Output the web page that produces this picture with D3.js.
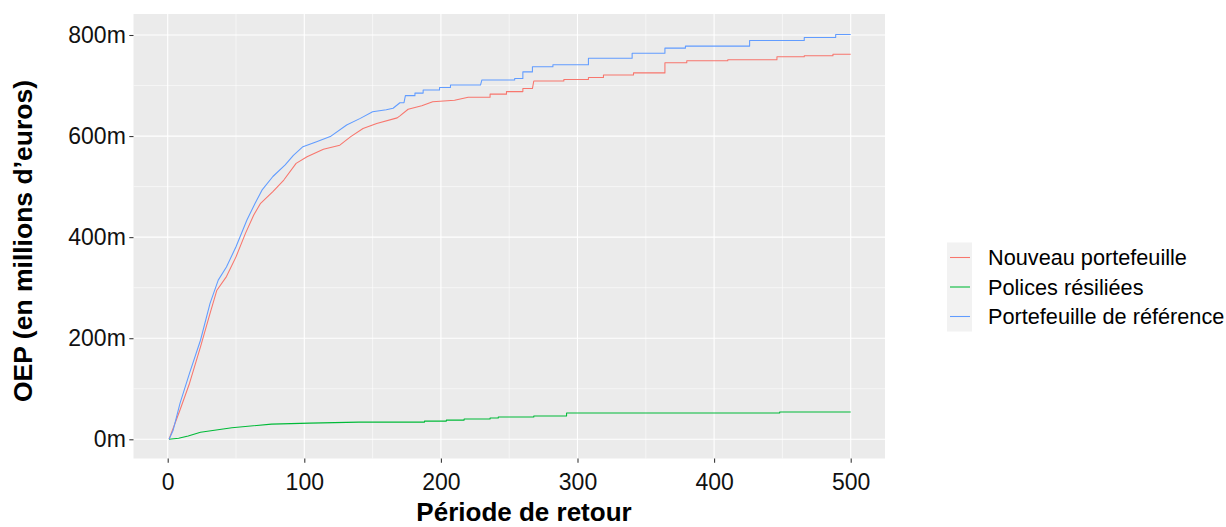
<!DOCTYPE html>
<html>
<head>
<meta charset="utf-8">
<script src="https://cdn.jsdelivr.net/npm/d3@7"></script>
<style>
  html, body { margin: 0; padding: 0; background: #fff; }
  svg { display: block; font-family: "Liberation Sans", Arial, sans-serif; }
</style>
</head>
<body>
<svg id="chart" width="1226" height="527"></svg>
<script>
// ---- data ----
const seriesNames = ["Nouveau portefeuille", "Polices résiliées", "Portefeuille de référence"];
const seriesColors = ["#F8766D", "#00BA38", "#619CFF"];

const newPeriods = [1,9,16,24,31,36,43,50,57,63,68,77,85,94,102,114,126,134,143,153,168,170,176,186,194,210,220,
  236,236,248,248,260,260,267,268,290,290,308,308,319,319,341,341,364,364,380,380,410,410,446,446,466,466,487,487,500];
const newValues = [0,58,111,183,249,295,322,361,408,444,467,490,513,546,559,574,582,599,615,625,636,640,653,660,668,671,677,
  677,683,683,688,688,694,694,709,709,712,712,716,716,721,721,725,725,745,745,749,749,751,751,757,757,759,759,762,762];

const cancPeriods = [1,8,15,24,47,76,104,140,188,188,204,204,217,217,236,236,242,242,268,268,292,292,448,448,500];
const cancValues = [0,2,6.5,14,23,30,32,34,34,36,36,38,38,40,40,42,42,44,44,46,46,52,52,54,54];

const refPeriods = [1,4,9,16,24,31,37,43,50,58,64,69,77,86,92,99,109,119,131,141,150,160,165,170,173,
  174,181,181,187,187,199,199,207,207,229,230,254,254,260,260,267,267,282,282,308,308,340,340,364,364,379,379,426,426,466,466,489,489,500];
const refValues = [0,18,71,131,196,269,315,341,381,434,467,493,520,543,562,579,589,599,622,635,648,652,655,666,666,
  680,680,685,685,691,691,696,696,701,701,711,711,714,714,727,727,737,737,741,741,754,754,764,764,774,774,778,778,789,789,795,795,801,801];

const xTicks = [0,100,200,300,400,500];
const xMinor = [50,150,250,350,450];
const yTicks = [0,200,400,600,800];
const yMinor = [100,300,500,700];
const yTickLabels = ["0m","200m","400m","600m","800m"];

// ---- layout ----
const svg = d3.select("#chart");
const panel = { left: 133.5, right: 885, top: 14, bottom: 458.5 };
const x = d3.scaleLinear().domain([0, 500]).range([167.7, 850.7]);
const y = d3.scaleLinear().domain([0, 800]).range([439.3, 35]);

svg.append("rect")
  .attr("x", panel.left).attr("y", panel.top)
  .attr("width", panel.right - panel.left).attr("height", panel.bottom - panel.top)
  .attr("fill", "#EBEBEB");

const grid = svg.append("g");
grid.selectAll(".xmin").data(xMinor).join("line")
  .attr("x1", d => x(d)).attr("x2", d => x(d))
  .attr("y1", panel.top).attr("y2", panel.bottom)
  .attr("stroke", "#fff").attr("stroke-width", 0.55);
grid.selectAll(".ymin").data(yMinor).join("line")
  .attr("y1", d => y(d)).attr("y2", d => y(d))
  .attr("x1", panel.left).attr("x2", panel.right)
  .attr("stroke", "#fff").attr("stroke-width", 0.55);
grid.selectAll(".xmaj").data(xTicks).join("line")
  .attr("x1", d => x(d)).attr("x2", d => x(d))
  .attr("y1", panel.top).attr("y2", panel.bottom)
  .attr("stroke", "#fff").attr("stroke-width", 1.1);
grid.selectAll(".ymaj").data(yTicks).join("line")
  .attr("y1", d => y(d)).attr("y2", d => y(d))
  .attr("x1", panel.left).attr("x2", panel.right)
  .attr("stroke", "#fff").attr("stroke-width", 1.1);

// ---- series ----
const series = [
  { name: seriesNames[0], color: seriesColors[0], xs: newPeriods, ys: newValues },
  { name: seriesNames[1], color: seriesColors[1], xs: cancPeriods, ys: cancValues },
  { name: seriesNames[2], color: seriesColors[2], xs: refPeriods, ys: refValues }
];
const line = d3.line().x(d => x(d[0])).y(d => y(d[1])).curve(d3.curveLinear);
svg.append("g").selectAll("path").data(series).join("path")
  .attr("d", s => line(s.xs.map((v, i) => [v, s.ys[i]])))
  .attr("fill", "none")
  .attr("stroke", s => s.color)
  .attr("stroke-width", 1.07)
  .attr("stroke-linejoin", "round");

// ---- axes ----
const xAxis = d3.axisBottom(x).tickValues(xTicks).tickSize(4.2).tickPadding(11).tickFormat(d3.format("d"));
const gx = svg.append("g").attr("transform", `translate(0,${panel.bottom})`).call(xAxis);
gx.select(".domain").remove();
gx.selectAll(".tick line").attr("stroke", "#333333").attr("stroke-width", 1.07);
gx.selectAll(".tick text").attr("fill", "#111").attr("font-size", 23).attr("font-family", "Liberation Sans, Arial, sans-serif");

const yAxis = d3.axisLeft(y).tickValues(yTicks).tickSize(4.2).tickPadding(3.5)
  .tickFormat((d, i) => yTickLabels[i]);
const gy = svg.append("g").attr("transform", `translate(${panel.left},0)`).call(yAxis);
gy.select(".domain").remove();
gy.selectAll(".tick line").attr("stroke", "#333333").attr("stroke-width", 1.07);
gy.selectAll(".tick text").attr("fill", "#111").attr("font-size", 23).attr("font-family", "Liberation Sans, Arial, sans-serif");

// ---- axis titles ----
svg.append("text")
  .attr("x", 524).attr("y", 521)
  .attr("text-anchor", "middle").attr("font-size", 26).attr("font-weight", "bold").attr("fill", "#000")
  .text("Période de retour");
svg.append("text")
  .attr("transform", `translate(32,241) rotate(-90)`)
  .attr("text-anchor", "middle").attr("font-size", 26.5).attr("font-weight", "bold").attr("fill", "#000")
  .text("OEP (en millions d’euros)");

// ---- legend ----
const legend = svg.append("g").attr("transform", "translate(947,243)");
const rowH = 29.5;
legend.selectAll("rect").data(series).join("rect")
  .attr("x", 0).attr("y", (d, i) => i * rowH - 0.5)
  .attr("width", 25).attr("height", rowH + 0.5)
  .attr("fill", "#F2F2F2");
legend.selectAll("line").data(series).join("line")
  .attr("x1", 3).attr("x2", 23)
  .attr("y1", (d, i) => i * rowH + 14.5).attr("y2", (d, i) => i * rowH + 14.5)
  .attr("stroke", d => d.color).attr("stroke-width", 1.07);
legend.selectAll("text").data(series).join("text")
  .attr("x", 41).attr("y", (d, i) => i * rowH + 14.5)
  .attr("dy", "0.35em")
  .attr("font-size", 21.7).attr("fill", "#000")
  .text(d => d.name);
</script>
</body>
</html>
